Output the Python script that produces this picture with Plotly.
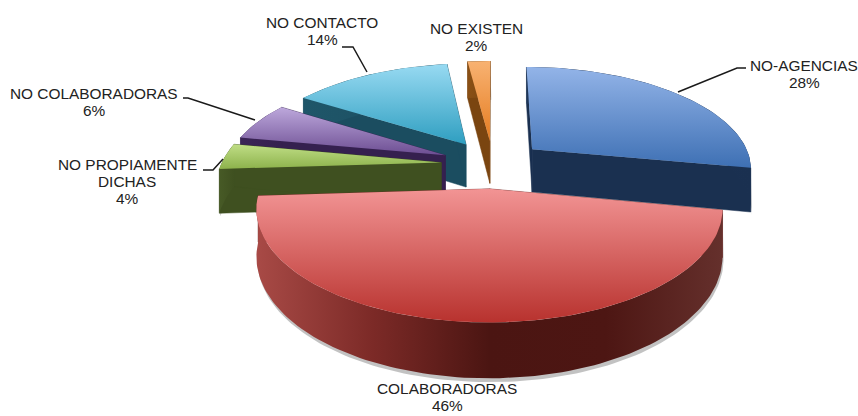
import numpy as np
import plotly.graph_objects as go

# ---- data ----
categories = ["NO-AGENCIAS", "COLABORADORAS", "NO PROPIAMENTE DICHAS",
              "NO COLABORADORAS", "NO CONTACTO", "NO EXISTEN"]
label_lines = [["NO-AGENCIAS"], ["COLABORADORAS"], ["NO PROPIAMENTE", "DICHAS"],
               ["NO COLABORADORAS"], ["NO CONTACTO"], ["NO EXISTEN"]]
values = [28, 46, 4, 6, 14, 2]

# ---- style ----
top_colors = [("#3e70b4", "#93b4e8"), ("#b8322e", "#f29494"), ("#8db24c", "#c0de86"),
              ("#6c4d92", "#bda8dc"), ("#2e9ec0", "#98daf2"), ("#e57c20", "#f8b272")]
face_colors = ["#1a3050", "#6e2522", "#3f5020", "#35204f", "#1b4d60", "#7a4510"]
rim_scales = [
    ["#1d3558", "#1a3050"],
    ["#a84a46", "#7c2a27", "#4b1512", "#4d1613", "#65302c"],
    ["#475a26", "#3f5020"],
    ["#3a2456", "#35204f"],
    ["#1f5669", "#1b4d60"],
    ["#8a5015", "#7a4510"],
]
draw_order = [5, 4, 3, 2, 0, 1]
label_first_y = [65, 388, 164, 93, 22, 28]
label_x = [804, 447, 127, 94, 322, 476]
LINE_H = 17
leaders = ["M678,92 L737,68 L746,68", None, "M223,159 L213,170 L203,170",
           "M255,120 L188,98 L183,98", "M367,72 L353,47 L342,47", None]

# ---- projection (tilted, perspective view of the exploded pie) ----
CX, CY, R, PULL, K, P, DEPTH = 493, 164, 220, 52, 0.459, 0.175, 44


def project(X, Y, drop=0.0):
    s = 1 / (1 + P * np.asarray(Y) / 224)
    return CX + np.asarray(X) * s, CY - K * np.asarray(Y) * s + drop * s


def scale(cols):
    return [[i / (len(cols) - 1), c] for i, c in enumerate(cols)]


fig = go.Figure()
edges = np.concatenate([[0], np.cumsum(values)]) / sum(values) * 2 * np.pi


def poly(x, y, **kw):
    fig.add_trace(go.Scatter(x=np.r_[x, x[0]], y=np.r_[y, y[0]], mode="lines", fill="toself",
                             line=dict(width=0.5, color=kw.pop("line", "rgba(0,0,0,0)")),
                             hoverinfo="skip", showlegend=False, **kw))


for i in draw_order:
    a0, a1 = edges[i], edges[i + 1]
    mid = (a0 + a1) / 2
    ox, oy = PULL * np.sin(mid), PULL * np.cos(mid)
    th = np.linspace(a0, a1, max(int((a1 - a0) * 40), 6))
    ax, ay = ox + R * np.sin(th), oy + R * np.cos(th)
    wx = np.r_[ox, ax]
    wy = np.r_[oy, ay]

    # soft shadow under the rim
    sx, sy = project(ax, ay, DEPTH + 3)
    tx, ty = project(ax, ay, 0)
    poly(np.r_[sx + 1, tx[::-1]], np.r_[sy, ty[::-1]], fillcolor="rgba(120,120,120,0.45)")

    # radial faces
    for edge_a in (a0, a1):
        ex = ox + R * np.sin(edge_a)
        ey = oy + R * np.cos(edge_a)
        x1, y1 = project([ox, ex], [oy, ey], 0)
        x2, y2 = project([ox, ex], [oy, ey], DEPTH)
        poly(np.r_[x1, x2[::-1]], np.r_[y1, y2[::-1]], fillcolor=face_colors[i], line=face_colors[i])

    # outer rim
    x1, y1 = project(ax, ay, 0)
    x2, y2 = project(ax, ay, DEPTH)
    poly(np.r_[x1, x2[::-1]], np.r_[y1, y2[::-1]],
         fillgradient=dict(type="horizontal", colorscale=scale(rim_scales[i])))

    # top surface
    x, y = project(wx, wy, 0)
    poly(x, y, fillgradient=dict(type="vertical", colorscale=scale(top_colors[i])))

annotations = []
for i, lines in enumerate(label_lines):
    for j, t in enumerate(lines + [f"{values[i]}%"]):
        annotations.append(dict(x=label_x[i], y=label_first_y[i] + j * LINE_H, xref="x", yref="y",
                                xanchor="center", yanchor="middle", showarrow=False,
                                text=t, font=dict(family="Liberation Sans", size=15.4, color="#222222")))

shapes = [dict(type="path", path=p, xref="x", yref="y", line=dict(color="#1a1a1a", width=1.5))
          for p in leaders if p]

fig.update_layout(
    width=858, height=416, margin=dict(l=0, r=0, t=0, b=0),
    paper_bgcolor="white", plot_bgcolor="white", showlegend=False,
    xaxis=dict(range=[0, 858], visible=False, fixedrange=True),
    yaxis=dict(range=[416, 0], visible=False, fixedrange=True),
    annotations=annotations, shapes=shapes,
)
fig.write_html("out.html", config=dict(displayModeBar=False),
               post_script="document.body.style.margin='0';document.body.style.overflow='hidden';")
